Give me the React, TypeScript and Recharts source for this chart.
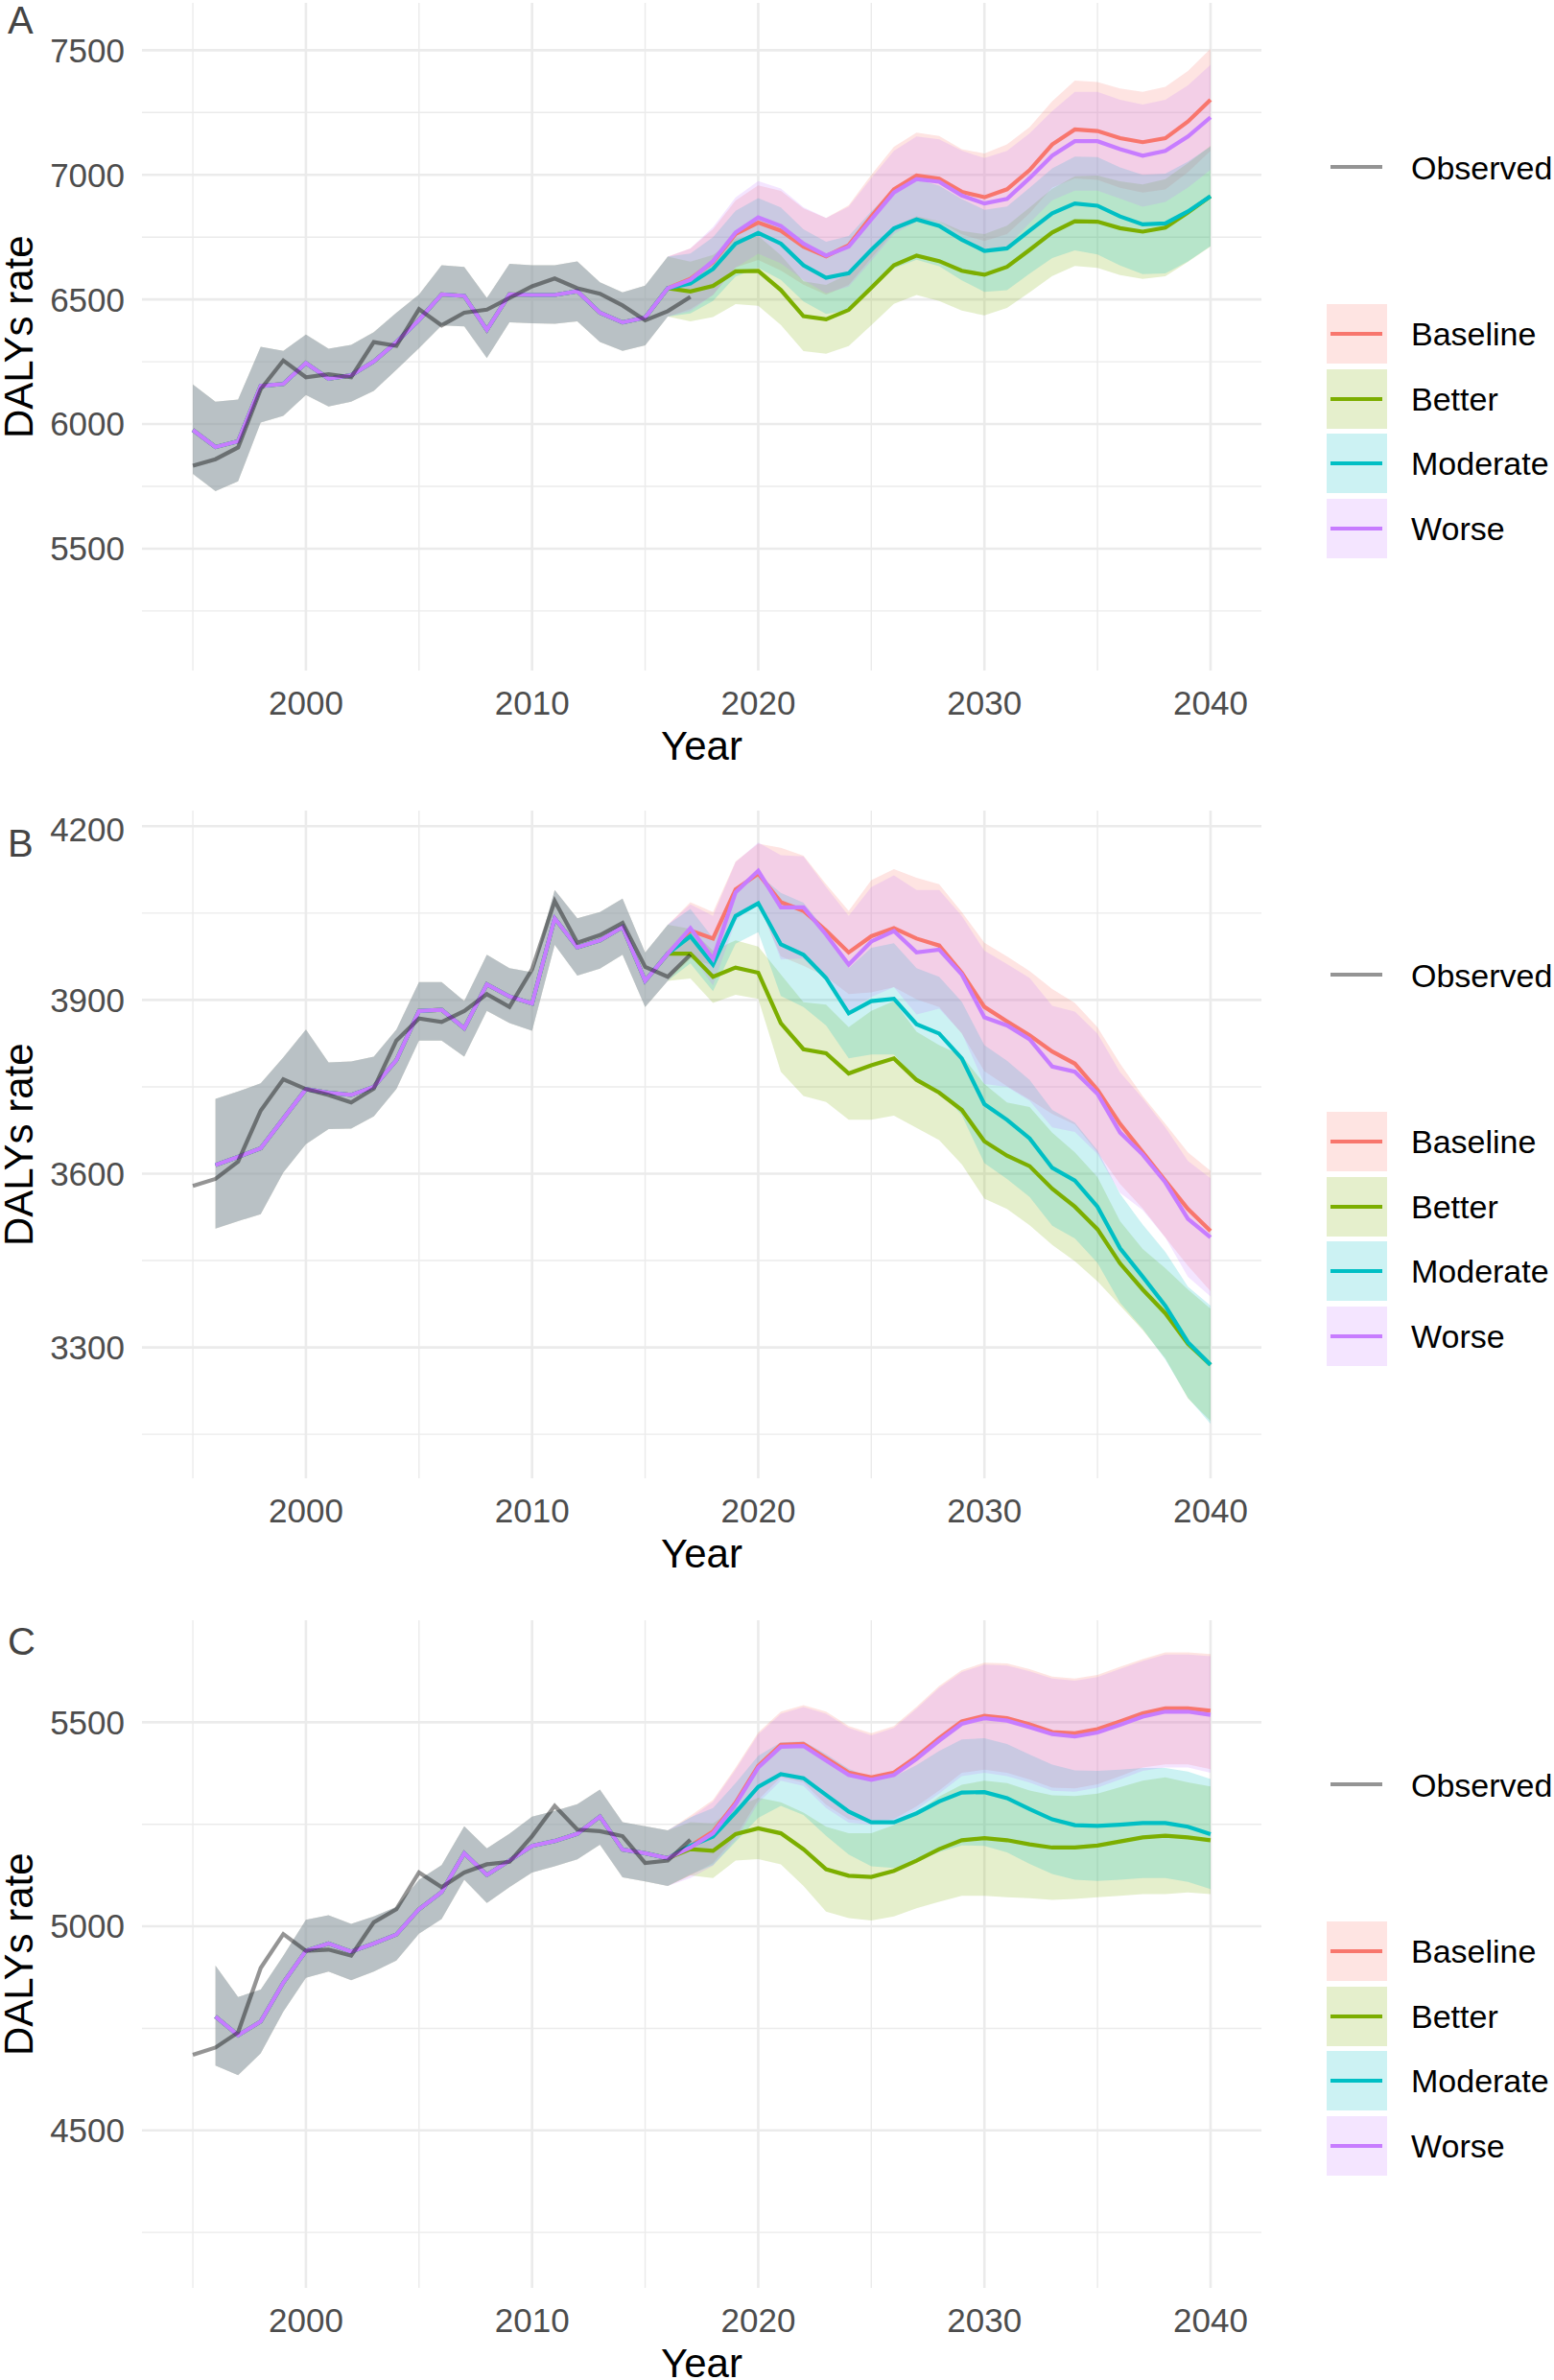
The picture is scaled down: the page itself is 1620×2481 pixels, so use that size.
import React from "react";
import { ComposedChart, Area, Line, XAxis, YAxis, CartesianGrid } from "recharts";

const FONT = '"Liberation Sans", Arial, Helvetica, sans-serif';

// years
const histYears = [1995, 1996, 1997, 1998, 1999, 2000, 2001, 2002, 2003, 2004, 2005, 2006, 2007, 2008, 2009, 2010, 2011, 2012, 2013, 2014, 2015, 2016];
const projYears = [2017, 2018, 2019, 2020, 2021, 2022, 2023, 2024, 2025, 2026, 2027, 2028, 2029, 2030, 2031, 2032, 2033, 2034, 2035, 2036, 2037, 2038, 2039, 2040];
const obsYears = [1995, 1996, 1997, 1998, 1999, 2000, 2001, 2002, 2003, 2004, 2005, 2006, 2007, 2008, 2009, 2010, 2011, 2012, 2013, 2014, 2015, 2016, 2017];
const xMajor = [2000, 2010, 2020, 2030, 2040];
const xMinor = [1995, 2005, 2015, 2025, 2035];

// ---- panel A ----
const obsA = [5833, 5859, 5906, 6140, 6255, 6188, 6200, 6188, 6329, 6314, 6461, 6396, 6447, 6459, 6506, 6553, 6584, 6545, 6523, 6476, 6416, 6453, 6510];
const fitA = [5976, 5908, 5931, 6153, 6161, 6245, 6182, 6196, 6251, 6329, 6418, 6520, 6514, 6378, 6520, 6518, 6518, 6533, 6447, 6408, 6427, 6545];
const fitHiA = [6159, 6090, 6098, 6310, 6294, 6359, 6302, 6318, 6369, 6447, 6520, 6637, 6631, 6506, 6643, 6637, 6637, 6653, 6569, 6529, 6555, 6672];
const fitLoA = [5800, 5731, 5770, 6006, 6033, 6117, 6070, 6090, 6133, 6218, 6304, 6396, 6392, 6265, 6408, 6404, 6402, 6412, 6329, 6294, 6316, 6431];
const baseA = [6583, 6650, 6763, 6808, 6776, 6712, 6673, 6718, 6833, 6942, 6997, 6985, 6932, 6910, 6942, 7019, 7122, 7182, 7176, 7147, 7131, 7147, 7214, 7301];
const baseHiA = [6705, 6782, 6897, 6958, 6936, 6865, 6827, 6878, 7000, 7113, 7169, 7156, 7103, 7086, 7122, 7192, 7295, 7378, 7372, 7346, 7333, 7353, 7417, 7506];
const baseLoA = [6461, 6518, 6629, 6658, 6616, 6559, 6519, 6558, 6666, 6771, 6825, 6814, 6761, 6734, 6762, 6846, 6949, 6986, 6980, 6948, 6929, 6941, 7011, 7096];
const betterA = [6532, 6554, 6613, 6615, 6538, 6433, 6420, 6458, 6547, 6637, 6676, 6654, 6615, 6599, 6631, 6699, 6769, 6814, 6812, 6786, 6772, 6788, 6849, 6914];
const betterHiA = [6652, 6679, 6745, 6755, 6678, 6573, 6558, 6603, 6697, 6792, 6834, 6814, 6775, 6762, 6796, 6869, 6944, 6994, 6997, 6974, 6962, 6983, 7047, 7116];
const betterLoA = [6412, 6429, 6481, 6475, 6398, 6293, 6282, 6313, 6397, 6482, 6518, 6494, 6455, 6436, 6466, 6529, 6594, 6634, 6627, 6598, 6582, 6593, 6651, 6712];
const modA = [6564, 6622, 6724, 6767, 6724, 6637, 6587, 6605, 6699, 6785, 6821, 6795, 6740, 6695, 6705, 6776, 6846, 6885, 6876, 6833, 6801, 6805, 6853, 6914];
const modHiA = [6684, 6750, 6856, 6907, 6869, 6782, 6732, 6755, 6854, 6945, 6983, 6957, 6903, 6860, 6873, 6948, 7026, 7073, 7071, 7030, 7000, 7005, 7053, 7114];
const modLoA = [6444, 6494, 6592, 6627, 6579, 6492, 6442, 6455, 6544, 6625, 6659, 6633, 6577, 6530, 6537, 6604, 6666, 6697, 6681, 6636, 6602, 6605, 6653, 6714];
const worseA = [6579, 6654, 6769, 6829, 6795, 6724, 6676, 6712, 6821, 6929, 6983, 6972, 6917, 6885, 6904, 6987, 7077, 7135, 7135, 7103, 7077, 7096, 7154, 7231];
const worseHiA = [6705, 6790, 6910, 6975, 6945, 6870, 6827, 6872, 6987, 7096, 7154, 7142, 7097, 7067, 7096, 7167, 7256, 7333, 7333, 7301, 7282, 7301, 7359, 7442];
const worseLoA = [6453, 6518, 6628, 6683, 6645, 6578, 6525, 6552, 6655, 6762, 6812, 6802, 6737, 6703, 6712, 6807, 6898, 6937, 6937, 6905, 6872, 6891, 6949, 7020];
const yDomainA = [5011, 7690];
const yMajorA = [5500, 6000, 6500, 7000, 7500];
const yMinorA = [5250, 5750, 6250, 6750, 7250];

// ---- panel B ----
const obsB = [3579, 3591, 3621, 3709, 3763, 3746, 3736, 3723, 3747, 3830, 3868, 3862, 3881, 3910, 3888, 3953, 4071, 3999, 4012, 4033, 3957, 3940, 3978];
const fitB = [null, 3615, 3629, 3644, 3695, 3746, 3740, 3736, 3750, 3796, 3881, 3883, 3851, 3927, 3906, 3894, 4041, 3991, 4003, 4026, 3933, 3980];
const fitHiB = [null, 3729, 3742, 3756, 3801, 3849, 3792, 3794, 3802, 3849, 3931, 3931, 3898, 3978, 3955, 3948, 4090, 4041, 4052, 4075, 3982, 4030];
const fitLoB = [null, 3505, 3518, 3530, 3602, 3651, 3677, 3678, 3699, 3746, 3830, 3830, 3802, 3881, 3860, 3847, 3995, 3942, 3954, 3978, 3888, 3933];
const baseB = [4020, 4006, 4091, 4118, 4069, 4054, 4020, 3982, 4010, 4024, 4006, 3994, 3947, 3888, 3863, 3839, 3811, 3790, 3745, 3686, 3637, 3588, 3539, 3501];
const baseHiB = [4069, 4052, 4139, 4170, 4163, 4149, 4100, 4054, 4107, 4126, 4111, 4100, 4052, 3999, 3975, 3950, 3919, 3895, 3853, 3790, 3734, 3686, 3637, 3605];
const baseLoB = [3971, 3960, 4043, 4066, 3975, 3959, 3940, 3910, 3913, 3922, 3901, 3888, 3842, 3777, 3751, 3728, 3703, 3685, 3637, 3582, 3540, 3490, 3441, 3397];
const betterB = [3980, 3940, 3956, 3947, 3860, 3815, 3808, 3773, 3787, 3799, 3762, 3740, 3710, 3656, 3631, 3613, 3574, 3543, 3504, 3445, 3400, 3359, 3306, 3270];
const betterHiB = [4023, 3985, 4003, 3992, 3944, 3896, 3892, 3853, 3881, 3898, 3845, 3822, 3804, 3755, 3723, 3715, 3671, 3637, 3594, 3518, 3470, 3437, 3400, 3367];
const betterLoB = [3937, 3895, 3909, 3902, 3776, 3734, 3724, 3693, 3693, 3700, 3679, 3658, 3616, 3557, 3539, 3511, 3477, 3449, 3414, 3372, 3330, 3281, 3212, 3173];
const modB = [4010, 3961, 4045, 4067, 3996, 3978, 3938, 3877, 3898, 3902, 3858, 3842, 3799, 3720, 3693, 3661, 3610, 3588, 3543, 3471, 3422, 3372, 3309, 3270];
const modHiB = [4057, 4007, 4093, 4117, 4085, 4068, 4020, 3955, 3990, 3998, 3955, 3940, 3897, 3822, 3795, 3762, 3710, 3688, 3640, 3565, 3512, 3465, 3405, 3372];
const modLoB = [3963, 3915, 3997, 4017, 3907, 3888, 3856, 3799, 3806, 3806, 3761, 3744, 3701, 3618, 3591, 3560, 3510, 3488, 3446, 3377, 3332, 3279, 3213, 3168];
const worseB = [4024, 3971, 4086, 4123, 4060, 4060, 4013, 3961, 4001, 4019, 3982, 3987, 3944, 3870, 3856, 3832, 3785, 3776, 3738, 3671, 3633, 3585, 3522, 3490];
const worseHiB = [4065, 4045, 4138, 4172, 4150, 4148, 4095, 4045, 4095, 4115, 4090, 4090, 4045, 3985, 3962, 3938, 3890, 3880, 3842, 3775, 3730, 3680, 3622, 3592];
const worseLoB = [3980, 3925, 4036, 4072, 3970, 3972, 3935, 3880, 3905, 3922, 3875, 3885, 3843, 3755, 3750, 3726, 3680, 3672, 3634, 3567, 3537, 3490, 3422, 3388];
const yDomainB = [3074, 4227];
const yMajorB = [3300, 3600, 3900, 4200];
const yMinorB = [3150, 3450, 3750, 4050];

// ---- panel C ----
const obsC = [4685, 4703, 4740, 4898, 4981, 4940, 4943, 4928, 5010, 5042, 5132, 5096, 5132, 5152, 5158, 5221, 5295, 5237, 5233, 5221, 5155, 5161, 5212];
const fitC = [null, 4779, 4733, 4767, 4862, 4940, 4958, 4938, 4958, 4980, 5042, 5084, 5179, 5126, 5161, 5197, 5209, 5227, 5269, 5188, 5179, 5167];
const fitHiC = [null, 4904, 4827, 4845, 4928, 5016, 5027, 5006, 5024, 5048, 5114, 5150, 5245, 5191, 5227, 5269, 5283, 5299, 5335, 5255, 5245, 5235];
const fitLoC = [null, 4659, 4635, 4689, 4791, 4874, 4889, 4868, 4889, 4916, 4982, 5018, 5114, 5057, 5096, 5132, 5147, 5164, 5200, 5120, 5110, 5099];
const baseC = [5197, 5232, 5303, 5393, 5445, 5447, 5412, 5377, 5365, 5377, 5416, 5461, 5502, 5516, 5510, 5495, 5476, 5473, 5483, 5502, 5522, 5534, 5534, 5528];
const baseHiC = [5271, 5310, 5389, 5475, 5526, 5542, 5526, 5491, 5473, 5491, 5538, 5589, 5628, 5646, 5644, 5630, 5612, 5607, 5616, 5636, 5655, 5671, 5671, 5667];
const baseLoC = [5125, 5155, 5220, 5310, 5365, 5352, 5298, 5262, 5257, 5263, 5294, 5333, 5376, 5384, 5376, 5360, 5340, 5338, 5348, 5368, 5389, 5397, 5397, 5385];
const betterC = [5189, 5185, 5226, 5240, 5228, 5189, 5140, 5124, 5121, 5136, 5161, 5189, 5211, 5216, 5211, 5201, 5193, 5193, 5198, 5208, 5218, 5222, 5218, 5211];
const betterHiC = [5255, 5252, 5291, 5315, 5304, 5279, 5244, 5228, 5228, 5248, 5278, 5318, 5347, 5357, 5351, 5333, 5321, 5319, 5325, 5341, 5357, 5365, 5353, 5343];
const betterLoC = [5125, 5118, 5161, 5165, 5152, 5099, 5036, 5020, 5014, 5024, 5044, 5060, 5075, 5075, 5071, 5069, 5065, 5067, 5071, 5075, 5079, 5079, 5083, 5079];
const modC = [5197, 5220, 5279, 5342, 5373, 5363, 5322, 5281, 5255, 5255, 5277, 5306, 5328, 5329, 5314, 5287, 5262, 5248, 5246, 5249, 5253, 5253, 5244, 5226];
const modHiC = [5267, 5290, 5351, 5418, 5451, 5453, 5422, 5386, 5363, 5367, 5395, 5430, 5458, 5461, 5447, 5421, 5396, 5382, 5381, 5384, 5388, 5388, 5379, 5361];
const modLoC = [5127, 5150, 5207, 5266, 5295, 5273, 5222, 5176, 5147, 5143, 5159, 5182, 5198, 5197, 5181, 5153, 5128, 5114, 5111, 5114, 5118, 5118, 5109, 5091];
const worseC = [5193, 5228, 5299, 5389, 5440, 5442, 5406, 5371, 5359, 5371, 5410, 5455, 5496, 5510, 5504, 5488, 5471, 5465, 5475, 5494, 5514, 5526, 5526, 5518];
const worseHiC = [5266, 5305, 5384, 5470, 5521, 5537, 5521, 5486, 5468, 5486, 5533, 5584, 5623, 5641, 5639, 5625, 5607, 5602, 5611, 5631, 5650, 5666, 5666, 5662];
const worseLoC = [5118, 5148, 5212, 5302, 5357, 5344, 5290, 5254, 5249, 5255, 5286, 5325, 5368, 5376, 5368, 5352, 5332, 5330, 5340, 5360, 5381, 5389, 5389, 5376];
const yDomainC = [4114, 5750];
const yMajorC = [4500, 5000, 5500];
const yMinorC = [4250, 4750, 5250];

const scenarios = [
  { key: "baseline", name: "Baseline", color: "#F8766D" },
  { key: "better", name: "Better", color: "#7CAE00" },
  { key: "moderate", name: "Moderate", color: "#00BFC4" },
  { key: "worse", name: "Worse", color: "#C77CFF" },
];

function buildRows(obs, fit, fitLo, fitHi, proj) {
  const years = [...histYears, ...projYears];
  return years.map((year, i) => {
    const row: any = { year };
    const oi = obsYears.indexOf(year);
    row.observed = oi >= 0 ? obs[oi] : null;
    scenarios.forEach((s) => {
      if (i < histYears.length) {
        row[s.key] = fit[i];
        row[s.key + "Band"] = fit[i] == null ? null : [fitLo[i], fitHi[i]];
      } else {
        const j = i - histYears.length;
        const p = proj[s.key];
        row[s.key] = p[0][j];
        row[s.key + "Band"] = [p[1][j], p[2][j]];
      }
    });
    return row;
  });
}

const rowsA = buildRows(obsA, fitA, fitLoA, fitHiA, {
  baseline: [baseA, baseLoA, baseHiA],
  better: [betterA, betterLoA, betterHiA],
  moderate: [modA, modLoA, modHiA],
  worse: [worseA, worseLoA, worseHiA],
});
const rowsB = buildRows(obsB, fitB, fitLoB, fitHiB, {
  baseline: [baseB, baseLoB, baseHiB],
  better: [betterB, betterLoB, betterHiB],
  moderate: [modB, modLoB, modHiB],
  worse: [worseB, worseLoB, worseHiB],
});
const rowsC = buildRows(obsC, fitC, fitLoC, fitHiC, {
  baseline: [baseC, baseLoC, baseHiC],
  better: [betterC, betterLoC, betterHiC],
  moderate: [modC, modLoC, modHiC],
  worse: [worseC, worseLoC, worseHiC],
});

const PLOT_H = 696;
const X_AXIS_H = 110;
const PLOT_LEFT = 148;
const PLOT_RIGHT = 1315;
const LINE_W = 4.2;
const tickStyle = { fontSize: 35, fill: "#4D4D4D", fontFamily: FONT };

function Panel({ rows, top, domain, major, minor, letter, letterTop, legendShift }) {
  const midY = top + PLOT_H / 2;
  return (
    <>
      <div style={{ position: "absolute", left: 0, top }}>
        <ComposedChart
          width={1620}
          height={PLOT_H + X_AXIS_H}
          data={rows}
          margin={{ top: 0, right: 1620 - PLOT_RIGHT, bottom: 0, left: 0 }}
        >
          <XAxis
            dataKey="year"
            type="number"
            domain={[1992.75, 2042.25]}
            allowDataOverflow
            ticks={xMajor}
            axisLine={false}
            tickLine={false}
            tickSize={0}
            tickMargin={21}
            height={X_AXIS_H}
            tick={tickStyle}
          />
          <XAxis xAxisId="minor" dataKey="year" type="number" domain={[1992.75, 2042.25]} allowDataOverflow ticks={xMinor} hide />
          <YAxis
            domain={domain}
            allowDataOverflow
            ticks={major}
            axisLine={false}
            tickLine={false}
            tickSize={0}
            tickMargin={18}
            width={PLOT_LEFT}
            tick={tickStyle}
          />
          <YAxis yAxisId="minor" domain={domain} allowDataOverflow ticks={minor} hide />
          <CartesianGrid xAxisId="minor" yAxisId="minor" syncWithTicks stroke="#EBEBEB" strokeWidth={1.4} />
          <CartesianGrid syncWithTicks stroke="#EBEBEB" strokeWidth={2.6} />
          {scenarios.map((s) => (
            <Area
              key={s.key + "Band"}
              dataKey={s.key + "Band"}
              type="linear"
              stroke="none"
              fill={s.color}
              fillOpacity={0.2}
              dot={false}
              activeDot={false}
              isAnimationActive={false}
            />
          ))}
          {scenarios.map((s) => (
            <Line
              key={s.key}
              dataKey={s.key}
              type="linear"
              stroke={s.color}
              strokeWidth={LINE_W}
              dot={false}
              activeDot={false}
              isAnimationActive={false}
            />
          ))}
          <Line
            dataKey="observed"
            type="linear"
            stroke="#000000"
            strokeOpacity={0.42}
            strokeWidth={LINE_W}
            dot={false}
            activeDot={false}
            isAnimationActive={false}
          />
        </ComposedChart>
      </div>

      {/* panel letter */}
      <div style={{ position: "absolute", left: 8, top: letterTop, fontSize: 40, lineHeight: "36px", color: "#444" }}>
        {letter}
      </div>

      {/* y title, vertical text reading bottom to top */}
      <div
        style={{
          position: "absolute",
          left: 3,
          top: midY - 150,
          width: 34,
          height: 300,
          lineHeight: "34px",
          fontSize: 42,
          textAlign: "center",
          color: "#000",
          writingMode: "vertical-rl",
          transform: "rotate(180deg)",
          whiteSpace: "nowrap",
        }}
      >
        DALYs rate
      </div>

      {/* x title */}
      <div
        style={{
          position: "absolute",
          left: (PLOT_LEFT + PLOT_RIGHT) / 2 - 150,
          top: top + PLOT_H + 79 - 18,
          width: 300,
          lineHeight: "36px",
          fontSize: 42,
          textAlign: "center",
          color: "#000",
        }}
      >
        Year
      </div>

      <LegendBlock shift={legendShift} />
    </>
  );
}

function LegendBlock({ shift }) {
  const label = (cy) => ({
    position: "absolute" as const,
    left: 1471,
    top: shift + cy - 17,
    fontSize: 34,
    lineHeight: "34px",
    color: "#000",
    whiteSpace: "nowrap" as const,
  });
  return (
    <>
      <div style={{ position: "absolute", left: 1387, top: shift + 172, width: 54, height: 4, background: "#000", opacity: 0.42 }} />
      <div style={label(175)}>Observed</div>
      {scenarios.map((s, i) => {
        const boxTop = 317 + i * 67.7;
        const cy = boxTop + 31;
        return (
          <React.Fragment key={s.key}>
            <div style={{ position: "absolute", left: 1383, top: shift + boxTop, width: 63, height: 62, background: s.color, opacity: 0.2 }} />
            <div style={{ position: "absolute", left: 1387, top: shift + cy - 2, width: 54, height: 4, background: s.color }} />
            <div style={label(cy)}>{s.name}</div>
          </React.Fragment>
        );
      })}
    </>
  );
}

export default function App() {
  return (
    <div
      style={{
        position: "absolute",
        left: 0,
        top: 0,
        width: 1620,
        height: 2481,
        background: "#fff",
        overflow: "hidden",
        fontFamily: FONT,
      }}
    >
      <Panel rows={rowsA} top={3} domain={yDomainA} major={yMajorA} minor={yMinorA} letter="A" letterTop={3} legendShift={0} />
      <Panel rows={rowsB} top={845} domain={yDomainB} major={yMajorB} minor={yMinorB} letter="B" letterTop={861} legendShift={842} />
      <Panel rows={rowsC} top={1689} domain={yDomainC} major={yMajorC} minor={yMinorC} letter="C" letterTop={1693} legendShift={1686} />
    </div>
  );
}
